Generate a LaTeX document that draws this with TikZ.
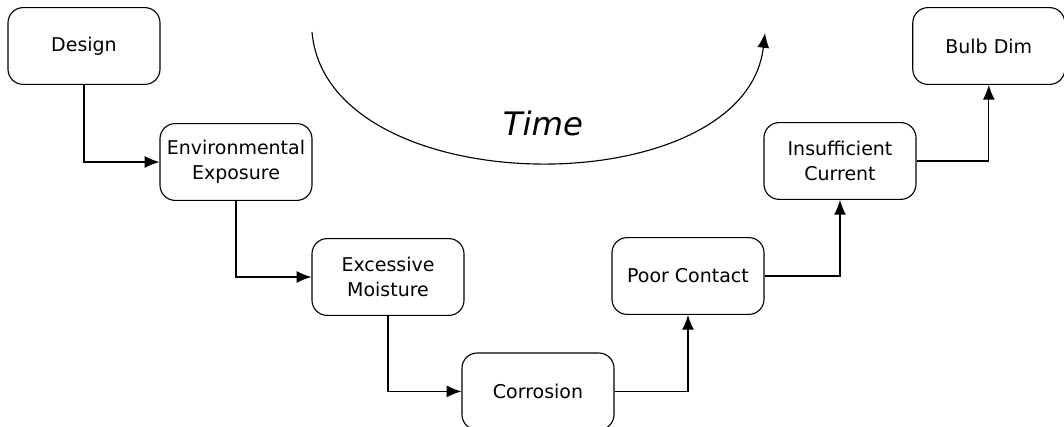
\documentclass[tikz,border=0pt]{standalone}
\usepackage{fontspec}
\setmainfont{DejaVu Sans}
\usetikzlibrary{arrows.meta}
\begin{document}
\begin{tikzpicture}[box/.style={draw,rounded corners=0.38cm,minimum width=3.8cm,minimum height=1.92cm,align=center,font=\fontsize{13.5}{18}\selectfont,line width=0.8pt},
  arr/.style={-{Latex[length=10.5pt,width=8.5pt]},line width=0.8pt}]
\useasboundingbox (0,0) rectangle (26.6,10.675);
\foreach \n/\x/\y/\t in {design/2.1/9.525/Design, env/5.9/6.625/{Environmental\\Exposure}, moist/9.7/3.75/{Excessive\\Moisture}, corr/13.45/0.89/Corrosion, poor/17.2/3.775/Poor Contact, insuff/21.0/6.65/{Insufficient\\Current}, bulb/24.72/9.525/Bulb Dim} { \node[box] (\n) at (\x,\y) {\t}; }
\draw[arr] (design) |- (env); \draw[arr] (env) |- (moist); \draw[arr] (moist) |- (corr);
\draw[arr] (corr) -| (poor); \draw[arr] (poor) -| (insuff); \draw[arr] (insuff) -| (bulb);
\coordinate (tstart) at (7.8,9.875); \coordinate (tend) at (19.125,9.85);
\draw[arr] (tstart) .. controls (8.175,5.55) and (18.625,5.525) .. (tend);
\node[font=\fontsize{23}{28}\selectfont\itshape] (time) at (13.575,7.6) {Time};
\end{tikzpicture}
\end{document}
